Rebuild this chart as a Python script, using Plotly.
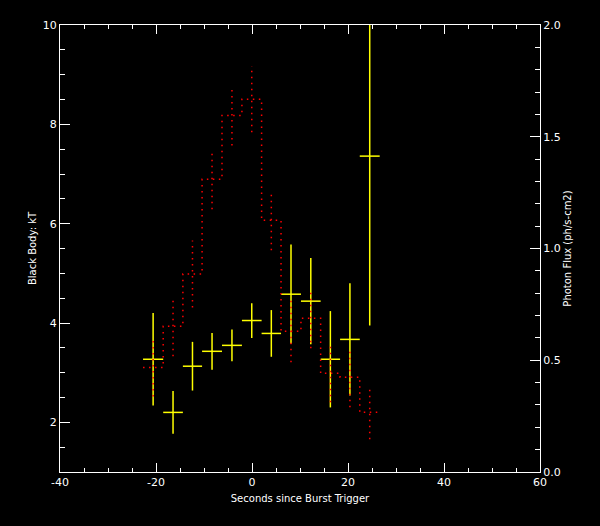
import plotly.graph_objects as go

# Time bins (seconds since burst trigger), shared by both data sets
time_edges = [-22.7, -18.5, -14.4, -10.4, -6.25, -2.1, 2.0, 6.05, 10.2, 14.3, 18.35, 22.45, 26.6]

# Black body kT (left axis), yellow crosses
kt_value = [3.27, 2.20, 3.13, 3.43, 3.55, 4.05, 3.79, 4.58, 4.44, 3.27, 3.67, 7.36]
kt_err = [0.93, 0.43, 0.49, 0.37, 0.32, 0.35, 0.47, 1.00, 0.87, 0.97, 1.13, 3.41]

# Photon flux (right axis), red dotted histogram with dotted error bars
flux_value = [0.468, 0.652, 0.886, 1.31, 1.595, 1.668, 1.126, 0.630, 0.688, 0.442, 0.424, 0.267]
flux_err = [0.13, 0.134, 0.15, 0.134, 0.134, 0.148, 0.134, 0.139, 0.134, 0.13, 0.134, 0.121]

x_ticks = [-40, -20, 0, 20, 40, 60]
kt_ticks = [2, 4, 6, 8, 10]
flux_ticks = [0.0, 0.5, 1.0, 1.5, 2.0]

centers = [(a + b) / 2 for a, b in zip(time_edges[:-1], time_edges[1:])]
halfw = [(b - a) / 2 for a, b in zip(time_edges[:-1], time_edges[1:])]

RED = "#ff0000"
YEL = "#ffff00"
WHITE = "#ffffff"
DOT = "1.5px,4.5px"

fig = go.Figure()

# red step histogram
fig.add_trace(go.Scatter(
    x=time_edges, y=flux_value + [flux_value[-1]],
    mode="lines", line=dict(color=RED, width=1.5, dash=DOT, shape="hv"),
    yaxis="y2", showlegend=False, hoverinfo="skip"))

# red dotted error bars
ex, ey = [], []
for c, v, e in zip(centers, flux_value, flux_err):
    ex += [c, c, None]
    ey += [v - e, v + e, None]
fig.add_trace(go.Scatter(
    x=ex, y=ey, mode="lines", line=dict(color=RED, width=1.5, dash=DOT),
    yaxis="y2", showlegend=False, hoverinfo="skip"))

# yellow crosses
fig.add_trace(go.Scatter(
    x=centers, y=kt_value, mode="markers",
    marker=dict(size=0.1, color=YEL, opacity=0),
    error_x=dict(type="data", array=halfw, color=YEL, thickness=1.5, width=0),
    error_y=dict(type="data", array=kt_err, color=YEL, thickness=1.5, width=0),
    showlegend=False))

font = dict(family="DejaVu Sans", size=11, color=WHITE)
tfont = dict(family="DejaVu Sans", size=10, color=WHITE)

fig.update_layout(
    width=600, height=526,
    paper_bgcolor="black", plot_bgcolor="black",
    margin=dict(l=60, r=60, t=25, b=54),
    font=font,
    xaxis=dict(
        range=[-40, 60], tickvals=x_ticks, ticktext=[str(t) for t in x_ticks],
        ticks="inside", ticklen=9, tickwidth=1, tickcolor=WHITE,
        minor=dict(dtick=5, tick0=0, ticks="inside", ticklen=4, tickcolor=WHITE, tickwidth=1),
        showline=True, linecolor=WHITE, linewidth=1, mirror="ticks",
        showgrid=False, zeroline=False, tickfont=font, automargin=False,
        title=dict(text="Seconds since Burst Trigger", font=tfont, standoff=6),
    ),
    yaxis=dict(
        range=[1, 10], tickvals=kt_ticks, ticktext=[str(t) for t in kt_ticks],
        ticks="inside", ticklen=10, tickwidth=1, tickcolor=WHITE,
        minor=dict(dtick=0.5, tick0=0, ticks="inside", ticklen=5, tickcolor=WHITE, tickwidth=1),
        showline=True, linecolor=WHITE, linewidth=1,
        showgrid=False, zeroline=False, tickfont=font, automargin=False,
        title=dict(text="Black Body: kT", font=tfont, standoff=4),
    ),
    yaxis2=dict(
        range=[0, 2], overlaying="y", side="right",
        tickvals=flux_ticks, ticktext=["%.1f" % t for t in flux_ticks],
        ticks="inside", ticklen=10, tickwidth=1, tickcolor=WHITE,
        minor=dict(dtick=0.1, tick0=0, ticks="inside", ticklen=5, tickcolor=WHITE, tickwidth=1),
        showline=True, linecolor=WHITE, linewidth=1,
        showgrid=False, zeroline=False, tickfont=font, automargin=False,
        title=dict(text="Photon Flux (ph/s-cm2)", font=tfont, standoff=4),
    ),
)

fig.write_html("out.html", config={"displayModeBar": False},
               post_script="document.body.style.margin='0px';document.body.style.background='black';")
